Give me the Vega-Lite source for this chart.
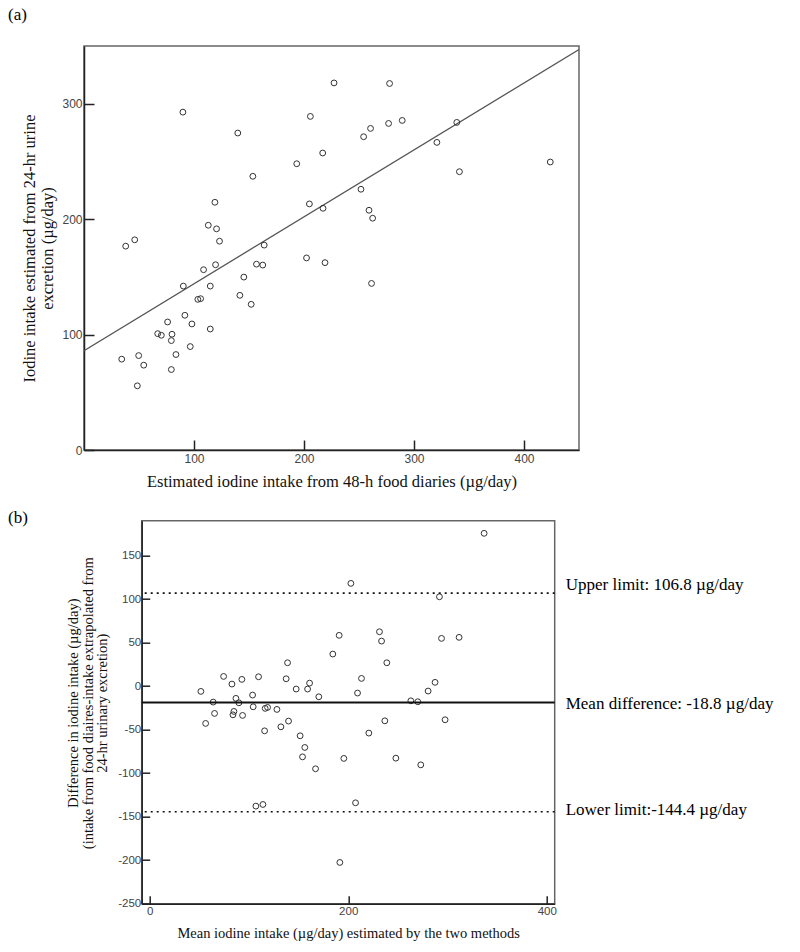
{
  "$schema": "https://vega.github.io/schema/vega-lite/v6.json",
  "padding": {"left": 7, "top": 5, "right": 0, "bottom": 0},
  "background": "white",
  "bounds": "flush",
  "spacing": 70.7,
  "datasets": {
    "lineA": [{"diary": 0, "urine": 86}, {"diary": 450, "urine": 347}],
    "panelA": [
      {"diary": 37.9, "urine": 176.6}, {"diary": 46.1, "urine": 182.1}, {"diary": 89.9, "urine": 292.7},
      {"diary": 119, "urine": 214.6}, {"diary": 113, "urine": 194.7}, {"diary": 120.5, "urine": 191.6},
      {"diary": 123.2, "urine": 180.9}, {"diary": 139.8, "urine": 274.6}, {"diary": 153.5, "urine": 237.1},
      {"diary": 163.8, "urine": 177.5}, {"diary": 193.4, "urine": 248}, {"diary": 205.8, "urine": 289},
      {"diary": 217, "urine": 257.3}, {"diary": 227.3, "urine": 318}, {"diary": 204.9, "urine": 213.2},
      {"diary": 217.3, "urine": 209.4}, {"diary": 202.3, "urine": 166.4}, {"diary": 219.1, "urine": 162.3},
      {"diary": 251.8, "urine": 225.9}, {"diary": 254.2, "urine": 271.4}, {"diary": 260.5, "urine": 278.6},
      {"diary": 259.1, "urine": 207.7}, {"diary": 262.4, "urine": 200.8}, {"diary": 276.9, "urine": 282.9},
      {"diary": 277.8, "urine": 317.5}, {"diary": 289.3, "urine": 285.5}, {"diary": 320.8, "urine": 266.5},
      {"diary": 338.9, "urine": 283.8}, {"diary": 341.3, "urine": 241.1}, {"diary": 423.9, "urine": 249.5},
      {"diary": 261.4, "urine": 144.3}, {"diary": 156.8, "urine": 161}, {"diary": 162.5, "urine": 160.2},
      {"diary": 145.3, "urine": 149.8}, {"diary": 141.7, "urine": 134}, {"diary": 152, "urine": 126.2},
      {"diary": 119.6, "urine": 160.5}, {"diary": 108.7, "urine": 156.2}, {"diary": 90.3, "urine": 142},
      {"diary": 114.8, "urine": 142}, {"diary": 103.5, "urine": 130.5}, {"diary": 106, "urine": 131.1},
      {"diary": 91.7, "urine": 116.7}, {"diary": 76, "urine": 110.9}, {"diary": 98.1, "urine": 109.2},
      {"diary": 114.8, "urine": 104.8}, {"diary": 67, "urine": 100.8}, {"diary": 70.3, "urine": 99.4},
      {"diary": 80, "urine": 100.3}, {"diary": 79.4, "urine": 94.8}, {"diary": 96.6, "urine": 89.6},
      {"diary": 34.3, "urine": 78.7}, {"diary": 49.7, "urine": 81.8}, {"diary": 54.3, "urine": 73.5},
      {"diary": 83.6, "urine": 82.7}, {"diary": 79.4, "urine": 69.7}, {"diary": 48.5, "urine": 55.6}
    ],
    "panelB": [
      {"mean": 74.5, "diff": 11.1}, {"mean": 82.9, "diff": 2.3}, {"mean": 92.9, "diff": 7.7},
      {"mean": 109.7, "diff": 10.7}, {"mean": 138.9, "diff": 26.8}, {"mean": 137.5, "diff": 8.4},
      {"mean": 161.1, "diff": 3.4}, {"mean": 184.5, "diff": 36.8}, {"mean": 190.9, "diff": 58.3},
      {"mean": 202.7, "diff": 118}, {"mean": 213.4, "diff": 8.8}, {"mean": 231.5, "diff": 62.4},
      {"mean": 233.6, "diff": 51.7}, {"mean": 238.9, "diff": 26.8}, {"mean": 291.9, "diff": 102.6},
      {"mean": 294, "diff": 54.8}, {"mean": 287.5, "diff": 4.3}, {"mean": 336.9, "diff": 175.5},
      {"mean": 311.7, "diff": 56}, {"mean": 297.6, "diff": -38.7}, {"mean": 51.6, "diff": -6.1},
      {"mean": 56.4, "diff": -42.9}, {"mean": 64, "diff": -18.4}, {"mean": 65.4, "diff": -31.4},
      {"mean": 86.9, "diff": -14.1}, {"mean": 89.9, "diff": -19.2}, {"mean": 84.9, "diff": -29.1},
      {"mean": 83.9, "diff": -33}, {"mean": 93.6, "diff": -33.7}, {"mean": 103.7, "diff": -10.3},
      {"mean": 104.3, "diff": -23.8}, {"mean": 116.4, "diff": -25.6}, {"mean": 118.8, "diff": -24.5},
      {"mean": 115.8, "diff": -51.4}, {"mean": 128.2, "diff": -26.8}, {"mean": 132.2, "diff": -46.8},
      {"mean": 139.9, "diff": -40.2}, {"mean": 147.6, "diff": -3.4}, {"mean": 159.1, "diff": -3.4},
      {"mean": 170.4, "diff": -12.3}, {"mean": 151.6, "diff": -57.1}, {"mean": 156.3, "diff": -70.5},
      {"mean": 154, "diff": -81.3}, {"mean": 167.1, "diff": -95}, {"mean": 107, "diff": -137.9},
      {"mean": 114.1, "diff": -136}, {"mean": 191.6, "diff": -202.6}, {"mean": 195.6, "diff": -83.1},
      {"mean": 207.4, "diff": -134.1}, {"mean": 209.4, "diff": -8}, {"mean": 220.8, "diff": -54},
      {"mean": 236.9, "diff": -39.9}, {"mean": 248, "diff": -82.8}, {"mean": 263.1, "diff": -16.9},
      {"mean": 270.1, "diff": -18}, {"mean": 273.1, "diff": -90.5}, {"mean": 280.5, "diff": -5.7}
    ],
    "limits": [
      {"kind": "upper", "value": 106.8, "label": "Upper limit: 106.8 µg/day"},
      {"kind": "mean", "value": -18.8, "label": "Mean difference: -18.8 µg/day"},
      {"kind": "lower", "value": -144.4, "label": "Lower limit:-144.4 µg/day"}
    ]
  },
  "vconcat": [
    {
      "width": 495,
      "height": 404,
      "title": {"text": "(a)", "anchor": "start", "frame": "group", "dx": -76, "offset": 5, "baseline": "bottom", "fontSize": 17, "font": "Liberation Serif", "fontWeight": "normal", "color": "#000"},
      "layer": [
        {
          "data": {"name": "lineA"},
          "mark": {"type": "line", "color": "#555", "strokeWidth": 1.3, "clip": true},
          "encoding": {
            "x": {"field": "diary", "type": "quantitative",
              "scale": {"domain": [0, 450], "nice": false, "zero": false},
              "axis": {"values": [100, 200, 300, 400], "tickSize": -10, "labelPadding": 13, "labelFontSize": 12, "labelFlush": false,
                "title": "Estimated iodine intake from 48-h food diaries (µg/day)", "titleFontSize": 16.5, "titlePadding": 9}},
            "y": {"field": "urine", "type": "quantitative",
              "scale": {"domain": [0, 350], "nice": false, "zero": false},
              "axis": {"values": [0, 100, 200, 300], "tickSize": -10, "labelPadding": 12, "labelFontSize": 12, "labelFlush": false,
                "title": ["Iodine intake estimated from 24-hr urine", "excretion (µg/day)"], "titleFontSize": 16.5, "titleLineHeight": 18, "titlePadding": 6}}
          }
        },
        {
          "data": {"name": "panelA"},
          "mark": {"type": "point", "shape": "circle", "filled": false, "stroke": "#333", "strokeWidth": 1, "size": 34, "opacity": 1},
          "encoding": {
            "x": {"field": "diary", "type": "quantitative"},
            "y": {"field": "urine", "type": "quantitative"}
          }
        }
      ]
    },
    {
      "bounds": "flush",
      "spacing": 17.7,
      "hconcat": [
        {
          "width": 40,
          "height": 10,
          "data": {"values": [{"blank": ""}]},
          "mark": {"type": "text", "opacity": 0},
          "encoding": {"text": {"field": "blank"}},
          "view": {"stroke": null}
        },
        {
          "width": 413,
          "height": 383,
          "title": {"text": "(b)", "anchor": "start", "frame": "group", "dx": -133.7, "offset": 0, "dy": 23, "baseline": "bottom", "fontSize": 17, "font": "Liberation Serif", "fontWeight": "normal", "color": "#000"},
          "layer": [
            {
              "data": {"name": "panelB"},
              "mark": {"type": "point", "shape": "circle", "filled": false, "stroke": "#333", "strokeWidth": 1, "size": 34, "opacity": 1},
              "encoding": {
                "x": {"field": "mean", "type": "quantitative",
                  "scale": {"domain": [-8, 408], "nice": false, "zero": false},
                  "axis": {"values": [0, 200, 400], "tickSize": -8, "labelPadding": 10, "labelFontSize": 11.5, "labelFlush": false,
                    "title": "Mean iodine intake (µg/day) estimated by the two methods", "titleFontSize": 14.5, "titlePadding": 9}},
                "y": {"field": "diff", "type": "quantitative",
                  "scale": {"domain": [-250, 190], "nice": false, "zero": false},
                  "axis": {"values": [-250, -200, -150, -100, -50, 0, 50, 100, 150], "tickSize": -8, "labelPadding": 9, "labelFontSize": 11.5, "labelFlush": false, "labelOverlap": false,
                    "labelExpr": "replace(datum.label, '\u2212', '-')",
                    "title": ["Difference in iodine intake (µg/day)", "(intake from food diaires-intake extrapolated from", "24-hr urinary excretion)"], "titleFontSize": 14.5, "titleLineHeight": 14.5, "titlePadding": 8, "titleY": 182}}
              }
            },
            {
              "data": {"name": "limits"},
              "transform": [{"filter": "datum.kind !== 'mean'"}],
              "mark": {"type": "rule", "color": "#111", "strokeWidth": 1.6, "strokeDash": [2, 4]},
              "encoding": {"y": {"field": "value", "type": "quantitative"}}
            },
            {
              "data": {"name": "limits"},
              "transform": [{"filter": "datum.kind === 'mean'"}],
              "mark": {"type": "rule", "color": "#111", "strokeWidth": 2},
              "encoding": {"y": {"field": "value", "type": "quantitative"}}
            },
            {
              "data": {"name": "limits"},
              "transform": [{"filter": "datum.kind === 'upper'"}],
              "mark": {"type": "text", "align": "left", "baseline": "middle", "dx": 11, "dy": -8, "font": "Liberation Serif", "fontSize": 17, "color": "#000", "clip": false},
              "encoding": {"x": {"datum": 408}, "y": {"field": "value", "type": "quantitative"}, "text": {"field": "label"}}
            },
            {
              "data": {"name": "limits"},
              "transform": [{"filter": "datum.kind === 'mean'"}],
              "mark": {"type": "text", "align": "left", "baseline": "middle", "dx": 11, "dy": 2, "font": "Liberation Serif", "fontSize": 17, "color": "#000", "clip": false},
              "encoding": {"x": {"datum": 408}, "y": {"field": "value", "type": "quantitative"}, "text": {"field": "label"}}
            },
            {
              "data": {"name": "limits"},
              "transform": [{"filter": "datum.kind === 'lower'"}],
              "mark": {"type": "text", "align": "left", "baseline": "middle", "dx": 11, "dy": -2, "font": "Liberation Serif", "fontSize": 17, "color": "#000", "clip": false},
              "encoding": {"x": {"datum": 408}, "y": {"field": "value", "type": "quantitative"}, "text": {"field": "label"}}
            }
          ]
        }
      ]
    }
  ],
  "config": {
    "view": {"stroke": "#666", "strokeWidth": 1.5},
    "axis": {"grid": false, "domainColor": "#222", "domainWidth": 1.5, "tickColor": "#222", "tickWidth": 1.5,
      "labelFont": "Liberation Sans", "labelColor": "#444", "titleFont": "Liberation Serif", "titleFontWeight": "normal", "titleColor": "#111"}
  }
}
